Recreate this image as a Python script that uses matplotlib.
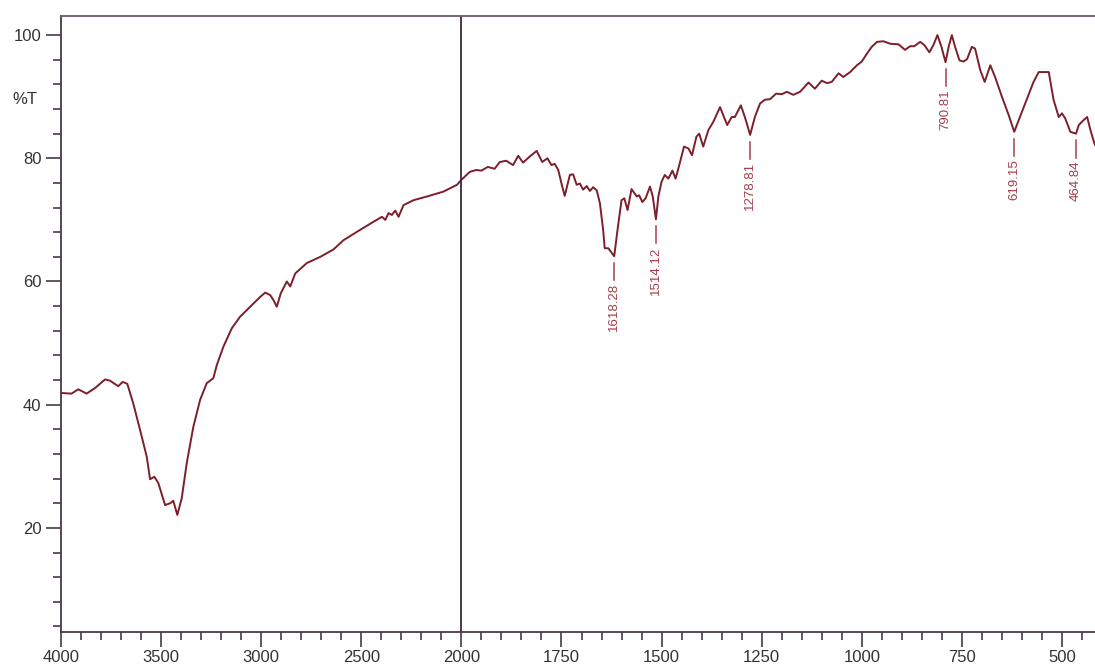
"""
FT-IR transmittance spectrum, split wavenumber scale at 2000 cm-1
"""
import numpy as np
import matplotlib
matplotlib.use('Agg')
import matplotlib.pyplot as plt
from matplotlib.ticker import FixedLocator, NullFormatter

plt.rcParams['font.family'] = ['Liberation Sans', 'DejaVu Sans']

# wavenumber (cm-1) and transmittance (%T)
wavenumber = [
    4000, 3947, 3914, 3872, 3830, 3780, 3755, 3714, 3692, 3669,
    3639, 3605, 3572, 3555, 3534, 3514, 3480, 3455, 3439, 3419,
    3397, 3372, 3339, 3305, 3272, 3239, 3222, 3189, 3147, 3105,
    3055, 3005, 2980, 2955, 2939, 2922, 2902, 2872, 2855, 2830,
    2772, 2705, 2639, 2589, 2505, 2439, 2397, 2380, 2364, 2347,
    2330, 2314, 2289, 2239, 2172, 2089, 2022,
    2000, 1979, 1963, 1950, 1934, 1917, 1904, 1888, 1871, 1858,
    1846, 1829, 1812, 1798, 1785, 1775, 1767, 1758, 1750, 1742,
    1729, 1721, 1712, 1704, 1696, 1687, 1679, 1671, 1662, 1654,
    1646, 1642, 1633, 1625, 1618.28, 1610, 1600, 1593, 1585, 1575,
    1562, 1556, 1548, 1540, 1529, 1522, 1514.12, 1508, 1500, 1492,
    1483, 1473, 1465, 1457, 1444, 1433, 1424, 1413, 1406, 1396,
    1383, 1371, 1354, 1346, 1336, 1325, 1317, 1302, 1292, 1278.81,
    1267, 1254, 1242, 1229, 1214, 1200, 1187, 1171, 1154, 1133,
    1117, 1100, 1087, 1075, 1058, 1046, 1029, 1012, 1000, 987,
    975, 962, 946, 929, 908, 892, 879, 869, 854, 844,
    831, 821, 811, 801, 790.81, 783, 775, 767, 756, 746,
    737, 725, 717, 704, 693, 679, 667, 650, 633, 619.15,
    608, 587, 571, 558, 546, 533, 521, 508, 500, 492,
    479, 464.84, 458, 446, 437, 429, 419, 400,
]
transmittance = [
    41.9, 41.8, 42.5, 41.8, 42.7, 44.1, 43.9, 43.0, 43.7, 43.4,
    40.2, 35.9, 31.6, 27.9, 28.3, 27.3, 23.7, 24.0, 24.4, 22.1,
    24.8, 30.5, 36.4, 40.8, 43.5, 44.3, 46.4, 49.4, 52.4, 54.3,
    55.9, 57.5, 58.2, 57.8, 57.0, 55.9, 58.1, 60.0, 59.2, 61.3,
    63.0, 64.0, 65.2, 66.7, 68.4, 69.7, 70.5, 70.0, 71.1, 70.8,
    71.5, 70.5, 72.4, 73.2, 73.8, 74.6, 75.7,
    76.5, 77.8, 78.1, 78.0, 78.6, 78.3, 79.4, 79.6, 78.9, 80.4,
    79.3, 80.3, 81.2, 79.4, 80.0, 78.9, 79.1, 78.1, 75.9, 73.9,
    77.3, 77.4, 75.7, 75.9, 74.9, 75.5, 74.7, 75.3, 74.8, 72.7,
    68.4, 65.4, 65.4, 64.7, 64.1, 68.4, 73.2, 73.5, 71.6, 75.0,
    73.8, 74.0, 72.9, 73.5, 75.4, 73.8, 70.1, 73.8, 76.2, 77.3,
    76.7, 78.0, 76.7, 78.6, 81.9, 81.6, 80.5, 83.5, 84.0, 81.9,
    84.6, 85.9, 88.3, 87.0, 85.4, 86.7, 86.7, 88.6, 86.7, 83.8,
    86.7, 88.9, 89.5, 89.6, 90.5, 90.4, 90.8, 90.3, 90.8, 92.3,
    91.3, 92.6, 92.2, 92.4, 93.8, 93.2, 94.0, 95.1, 95.7, 97.0,
    98.1, 98.9, 99.0, 98.6, 98.5, 97.6, 98.2, 98.2, 98.9, 98.4,
    97.2, 98.4, 100.0, 98.1, 95.6, 98.1, 100.0, 98.1, 95.9, 95.7,
    96.1, 98.1, 97.8, 94.3, 92.4, 95.1, 93.2, 90.0, 87.0, 84.3,
    86.2, 89.7, 92.4, 94.0, 94.0, 94.0, 89.5, 86.7, 87.3, 86.5,
    84.3, 84.0, 85.4, 86.2, 86.7, 84.6, 82.4, 80.0,
]

# labelled band positions
peaks = [1618.28, 1514.12, 1278.81, 790.81, 619.15, 464.84]

x_major = [4000, 3500, 3000, 2500, 2000, 1750, 1500, 1250, 1000, 750, 500]
x_minor = list(range(3900, 2000, -100)) + list(range(1950, 400, -50))
y_major = [20, 40, 60, 80, 100]
y_minor = list(range(4, 101, 4))

line_col = '#7d1f2a'
label_col = '#a3404a'
axis_col = '#4a3848'


# above 2000 cm-1 the scale is compressed by a factor 2
def forward(x):
    x = np.asarray(x, dtype=float)
    return np.where(x >= 2000, (x - 2000) * 0.5, x - 2000)


def inverse(f):
    f = np.asarray(f, dtype=float)
    return np.where(f >= 0, 2000 + 2 * f, 2000 + f)


fig = plt.figure(figsize=(10.95, 6.65), dpi=100)
ax = fig.add_axes([61 / 1095, 33 / 665, 1041 / 1095, 616 / 665])
ax.set_xscale('function', functions=(forward, inverse))

ax.plot(wavenumber, transmittance, '-', color=line_col, lw=1.4,
        solid_joinstyle='round')
ax.axvline(2000, color='#3a2840', lw=1.3)

wn = np.array(wavenumber)
tr = np.array(transmittance)
for p in peaks:
    t = tr[np.argmin(np.abs(wn - p))]
    ax.plot([p, p], [t - 1.1, t - 3.9], color=label_col, lw=1.1)
    ax.text(p, t - 4.4, '%.2f' % p, rotation=90, ha='center', va='top',
            fontsize=9.5, color=label_col)

ax.set_xlim(4000, 400)
ax.set_ylim(3.1, 103.1)

ax.xaxis.set_major_locator(FixedLocator(x_major))
ax.xaxis.set_minor_locator(FixedLocator(x_minor))
ax.xaxis.set_minor_formatter(NullFormatter())
ax.set_xticklabels([str(v) for v in x_major])
ax.yaxis.set_major_locator(FixedLocator(y_major))
ax.yaxis.set_minor_locator(FixedLocator(y_minor))
ax.yaxis.set_minor_formatter(NullFormatter())
ax.set_yticklabels([str(v) for v in y_major])

ax.tick_params(which='major', length=11, width=1.2, color=axis_col,
               labelsize=12, labelcolor='#333333', pad=3)
ax.tick_params(which='minor', length=6, width=1.2, color=axis_col)
ax.tick_params(axis='x', which='major', pad=2)

for side in ['left', 'bottom', 'top']:
    ax.spines[side].set_color(axis_col)
    ax.spines[side].set_linewidth(1.3)
ax.spines['top'].set_color('#6a5a68')
ax.spines['right'].set_visible(False)

ax.annotate('%T', xy=(0, 89.5), xycoords=('axes fraction', 'data'),
            xytext=(-17, 0), textcoords='offset points',
            ha='right', va='center', fontsize=12, color='#333333')

fig.savefig('out.png', dpi=100)
